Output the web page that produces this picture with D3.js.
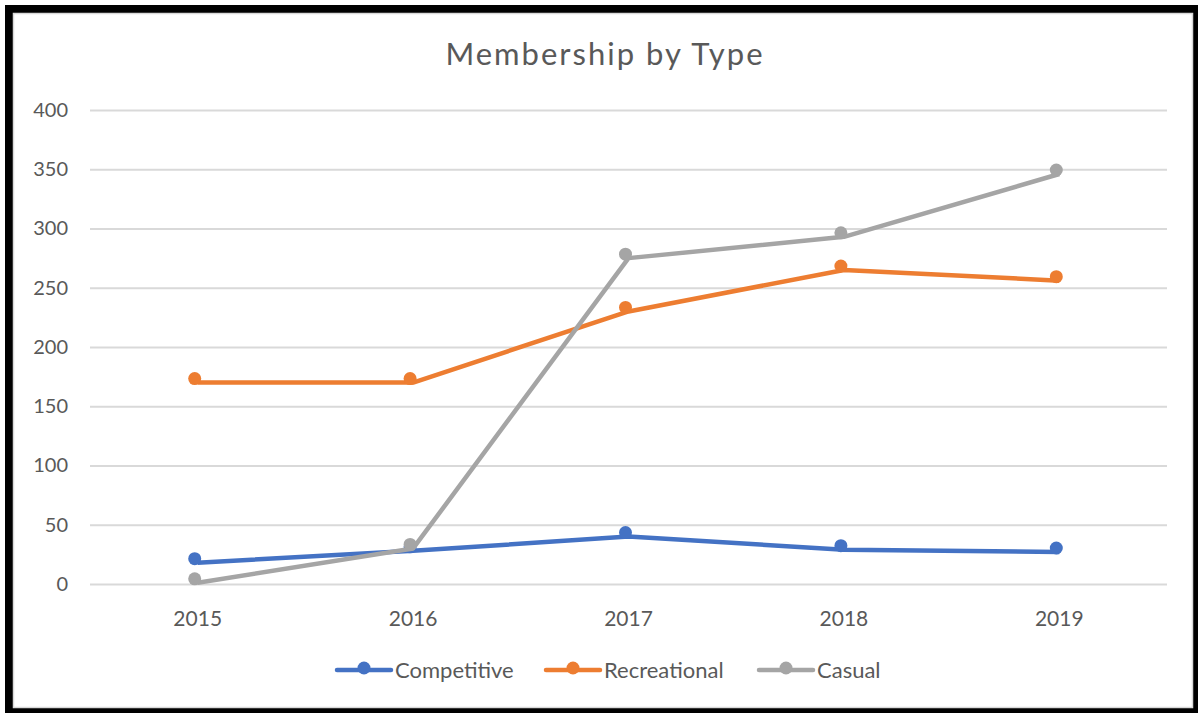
<!DOCTYPE html>
<html>
<head>
    <title>Membership by Type</title>
    <script src="https://d3js.org/d3.v7.min.js"></script>
    <style>
        body { margin: 0; background: #fff; }
        text { font-family: Lato, "Open Sans", sans-serif; fill: #595959; }
    </style>
</head>
<body>
    <svg width="1198" height="713"></svg>
    <script>
        // Data
        const years = ["2015", "2016", "2017", "2018", "2019"];
        const competitive = [18, 28, 40, 29, 27];
        const recreational = [170, 170, 230, 265, 256];
        const casual = [1, 30, 275, 293, 346];
        const yTicks = [0, 50, 100, 150, 200, 250, 300, 350, 400];

        const seriesNames = ["Competitive", "Recreational", "Casual"];
        const seriesColors = ["#4472C4", "#ED7D31", "#A5A5A5"];
        const seriesValues = [competitive, recreational, casual];

        const svg = d3.select("svg");

        // Frame: thick black border with thin grey inner edge
        svg.append("rect")
            .attr("x", 5).attr("y", 5)
            .attr("width", 1200).attr("height", 720)
            .attr("fill", "#000");
        svg.append("rect")
            .attr("x", 13.5).attr("y", 13.5)
            .attr("width", 1179).attr("height", 694)
            .attr("fill", "#fff")
            .attr("stroke", "#d9d9d9")
            .attr("stroke-width", 1.5);

        const plot = {left: 90, right: 1167, top: 110, bottom: 584};

        const x = d3.scaleBand()
            .domain(years)
            .range([plot.left, plot.right]);

        const y = d3.scaleLinear()
            .domain([0, 400])
            .range([plot.bottom, plot.top]);

        // Title
        svg.append("text")
            .attr("x", 605)
            .attr("y", 65)
            .attr("text-anchor", "middle")
            .style("font-size", "31px")
            .style("letter-spacing", "2px")
            .text("Membership by Type");

        // Gridlines + y labels
        const yAxis = svg.append("g")
            .attr("transform", `translate(${plot.left},0)`)
            .call(d3.axisLeft(y).tickValues(yTicks)
                .tickSize(-(plot.right - plot.left)).tickPadding(22));
        yAxis.select(".domain").remove();
        yAxis.selectAll(".tick line")
            .attr("stroke", "#d9d9d9")
            .attr("stroke-width", 2);
        yAxis.selectAll(".tick text")
            .attr("fill", "#595959")
            .style("font-size", "20px")
            .style("font-family", "Lato, 'Open Sans', sans-serif");

        // x labels
        const xAxis = svg.append("g")
            .attr("transform", `translate(0,${plot.bottom})`)
            .call(d3.axisBottom(x).tickSize(0).tickPadding(27));
        xAxis.select(".domain").remove();
        xAxis.selectAll(".tick text")
            .attr("fill", "#595959")
            .style("font-size", "21px")
            .style("font-family", "Lato, 'Open Sans', sans-serif");

        const cx = d => x(d) + x.bandwidth() / 2;
        const line = d3.line()
            .x((d, i) => cx(years[i]))
            .y(d => y(d));

        seriesValues.forEach((vals, s) => {
            svg.append("path")
                .datum(vals)
                .attr("fill", "none")
                .attr("stroke", seriesColors[s])
                .attr("stroke-width", 4.5)
                .attr("stroke-linejoin", "round")
                .attr("d", line);

            // markers sit slightly up-left of the vertices in the original
            svg.append("g")
                .attr("transform", "translate(-3,-4)")
              .selectAll("circle")
              .data(vals)
              .enter().append("circle")
                .attr("cx", (d, i) => cx(years[i]))
                .attr("cy", d => y(d))
                .attr("r", 6.5)
                .attr("fill", seriesColors[s]);
        });

        // Legend
        const legendX = [337, 546, 759];
        const legend = svg.append("g").attr("transform", "translate(0,670)");
        seriesNames.forEach((name, s) => {
            const g = legend.append("g").attr("transform", `translate(${legendX[s]},0)`);
            g.append("line")
                .attr("x1", 0).attr("x2", 54)
                .attr("y1", 0).attr("y2", 0)
                .attr("stroke", seriesColors[s])
                .attr("stroke-width", 4.5)
                .attr("stroke-linecap", "round");
            g.append("circle")
                .attr("cx", 27).attr("cy", -2)
                .attr("r", 6.5)
                .attr("fill", seriesColors[s]);
            g.append("text")
                .attr("x", 58).attr("y", 8)
                .style("font-size", "22px")
                .text(name);
        });
    </script>
</body>
</html>
